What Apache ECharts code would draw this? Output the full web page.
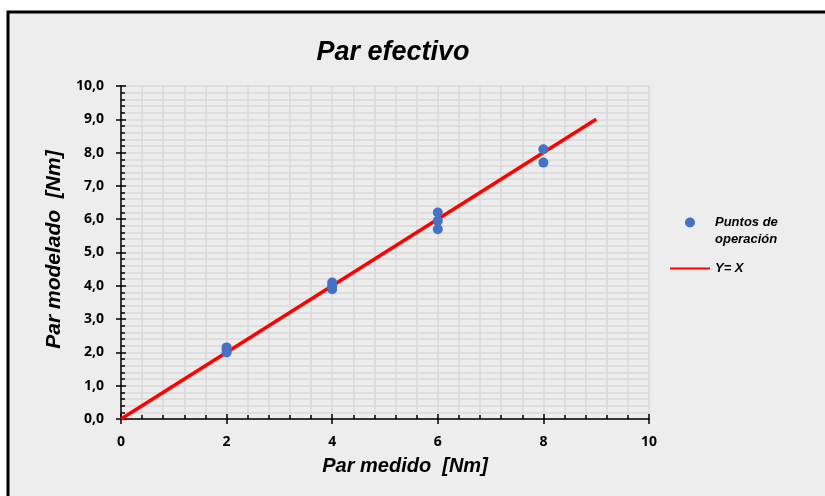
<!DOCTYPE html>
<html>
<head>
<meta charset="utf-8">
<script src="https://cdn.jsdelivr.net/npm/echarts@6/dist/echarts.min.js"></script>
<style>
  html, body { margin: 0; padding: 0; background: #ffffff; }
  #chart { width: 825px; height: 496px; }
</style>
</head>
<body>
<div id="chart"></div>
<script>
// Measured torque (x) against modelled torque (y), in Nm
const measuredTorque = [2, 2, 2, 4, 4, 4, 6, 6, 6, 8, 8];
const modelledTorque = [2.0, 2.1, 2.15, 3.9, 4.0, 4.1, 5.7, 5.95, 6.2, 7.7, 8.1];

// Reference line Y = X
const identityX = [0, 9];
const identityY = [0, 9];

const xTickValues = [0, 2, 4, 6, 8, 10];
const yTickValues = [0, 1, 2, 3, 4, 5, 6, 7, 8, 9, 10];

const seriesNames = ['Puntos de\noperación', 'Y= X'];

const labelFont = { fontFamily: 'Open Sans', fontWeight: 'bold', fontSize: 14, color: '#000' };
const italicBold = { fontFamily: 'Liberation Sans', fontStyle: 'italic', fontWeight: 'bold', color: '#000' };

const gridColor = '#d9d9d9';

const chart = echarts.init(document.getElementById('chart'), null, { renderer: 'canvas' });

const pointPairs = measuredTorque.map((x, i) => [x, modelledTorque[i]]);
const linePairs = identityX.map((x, i) => [x, identityY[i]]);

chart.setOption({
  backgroundColor: '#ffffff',
  animation: false,
  graphic: [{
    type: 'rect',
    z: -10,
    silent: true,
    shape: { x: 8, y: 12, width: 1000, height: 1000 },
    style: { fill: '#ededed', stroke: '#000', lineWidth: 3 }
  }],
  title: {
    text: 'Par efectivo',
    left: 388,
    textAlign: 'center',
    top: 34,
    textStyle: Object.assign({}, italicBold, { fontSize: 27 })
  },
  legend: {
    orient: 'vertical',
    left: 664,
    top: 192,
    itemWidth: 40,
    itemHeight: 10,
    itemGap: 12,
    textStyle: Object.assign({}, italicBold, { fontSize: 13, lineHeight: 17 }),
    // a blank first line keeps the marker level with the first text line
    formatter: name => name.indexOf('\n') >= 0 ? ' \n' + name : name,
    data: [
      { name: seriesNames[0], icon: 'circle' },
      { name: seriesNames[1], itemStyle: { opacity: 0 } }
    ]
  },
  grid: { left: 121, right: 176, top: 86, bottom: 77, containLabel: false },
  xAxis: [{
    type: 'value',
    min: 0, max: 10, interval: 2,
    name: 'Par medido  [Nm]',
    nameLocation: 'middle',
    nameGap: 37,
    nameTextStyle: Object.assign({}, italicBold, { fontSize: 20, padding: [0, 0, 0, 40] }),
    axisLine: { show: true, lineStyle: { color: '#000', width: 1.5 } },
    axisTick: { show: true, inside: false, length: 5, lineStyle: { color: '#000', width: 1.5 } },
    axisLabel: Object.assign({ margin: 16, formatter: v => String(v) }, labelFont),
    splitLine: { show: true, lineStyle: { color: gridColor, width: 1.5 } },
    minorTick: { show: false },
    minorSplitLine: { show: true, lineStyle: { color: gridColor, width: 1.5 } }
  }, {
    type: 'value',
    position: 'bottom',
    min: 0, max: 10, interval: 2,
    axisLine: { show: false },
    axisTick: { show: true, inside: true, length: 5, lineStyle: { color: '#000', width: 1.5 } },
    minorTick: { show: true, splitNumber: 5, length: 4, lineStyle: { color: '#000', width: 1.5 } },
    axisLabel: { show: false },
    splitLine: { show: false }
  }],
  yAxis: [{
    type: 'value',
    min: 0, max: 10, interval: 1,
    name: 'Par modelado  [Nm]',
    nameLocation: 'middle',
    nameGap: 56,
    nameTextStyle: Object.assign({}, italicBold, { fontSize: 21, padding: [0, 0, 0, 6] }),
    axisLine: { show: true, lineStyle: { color: '#000', width: 1.5 } },
    axisTick: { show: true, inside: false, length: 5, lineStyle: { color: '#000', width: 1.5 } },
    axisLabel: Object.assign({ margin: 17, formatter: v => v.toFixed(1).replace('.', ',') }, labelFont),
    splitLine: { show: true, lineStyle: { color: gridColor, width: 1.5 } },
    minorSplitLine: { show: true, lineStyle: { color: gridColor, width: 1.5 } }
  }, {
    type: 'value',
    position: 'left',
    min: 0, max: 10, interval: 1,
    axisLine: { show: false },
    axisTick: { show: true, inside: true, length: 5, lineStyle: { color: '#000', width: 1.5 } },
    minorTick: { show: true, splitNumber: 5, length: 4, lineStyle: { color: '#000', width: 1.5 } },
    axisLabel: { show: false },
    splitLine: { show: false }
  }],
  series: [{
    name: seriesNames[0],
    type: 'scatter',
    symbol: 'circle',
    symbolSize: 10,
    itemStyle: { color: '#4472C4', opacity: 1 },
    z: 3,
    data: pointPairs
  }, {
    name: seriesNames[1],
    type: 'line',
    symbol: 'none',
    lineStyle: { color: '#ff0000', width: 3.5 },
    itemStyle: { color: '#ff0000' },
    z: 2,
    data: linePairs
  }]
});
</script>
</body>
</html>
